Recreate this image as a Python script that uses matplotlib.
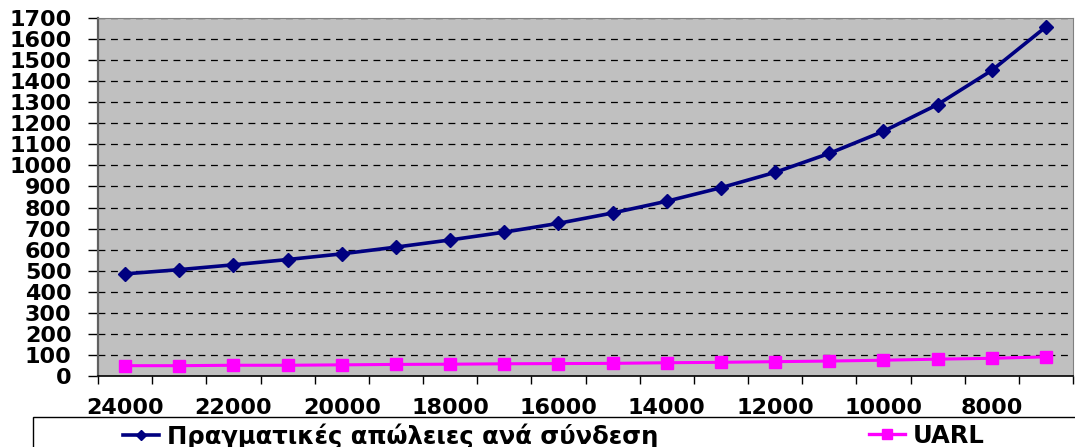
import matplotlib
matplotlib.use("Agg")
import matplotlib.pyplot as plt
from matplotlib.lines import Line2D
from matplotlib.patches import Rectangle

# connections (category axis, read right to left)
connections = [24000, 23000, 22000, 21000, 20000, 19000, 18000, 17000, 16000,
               15000, 14000, 13000, 12000, 11000, 10000, 9000, 8000, 7000]
# real losses per connection
real_losses = [485, 505, 528, 553, 580, 612, 646, 683, 725,
               774, 830, 894, 967, 1057, 1162, 1289, 1451, 1658]
# unavoidable annual real losses
uarl = [49, 49, 51, 51, 53, 55, 56, 58, 59,
        60, 63, 65, 68, 71, 75, 80, 84, 91]

label_real = "Πραγματικές απώλειες ανά σύνδεση"
label_uarl = "UARL"

W, H = 1075, 447
fig = plt.figure(figsize=(W / 100, H / 100), dpi=100)
fig.patch.set_facecolor("white")
ax = fig.add_axes([98 / W, 1 - 376 / H, 975 / W, (376 - 18) / H])
ax.set_facecolor("#C0C0C0")

x = list(range(len(connections)))
ax.plot(x, real_losses, color="#000080", lw=2.6, marker="D", ms=7, zorder=3)
ax.plot(x, uarl, color="#FF00FF", lw=2.2, marker="s", ms=8, zorder=3)

ax.set_xlim(-0.5, len(connections) - 0.5)
ax.set_ylim(0, 1700)

fnt = dict(family="DejaVu Sans", weight="bold", size=16)

ax.set_yticks(range(0, 1701, 100))
ax.set_yticklabels([str(v) for v in range(0, 1701, 100)], **fnt)
ax.tick_params(axis="y", length=7, width=1, pad=12, color="black")

ax.set_xticks(x[::2])
ax.set_xticklabels([str(c) for c in connections[::2]], **fnt)
ax.set_xticks([i - 0.5 for i in range(len(connections) + 1)], minor=True)
ax.tick_params(axis="x", which="major", length=0, pad=16)
ax.tick_params(axis="x", which="minor", length=6, width=1, color="black")

for v in range(100, 1701, 100):
    ax.axhline(v, color="black", lw=0.9, ls=(0, (5.5, 4.5)), zorder=1)

ax.spines["left"].set_color("#606060")
ax.spines["left"].set_linewidth(1.6)
ax.spines["bottom"].set_color("black")
ax.spines["bottom"].set_linewidth(1.2)
ax.spines["top"].set_color("#808080")
ax.spines["right"].set_color("#808080")

# legend box running off the bottom/right edge
fig.patches.append(Rectangle((33 / W, -0.2), 1.2, 0.2 + 1 - 417 / H,
                             transform=fig.transFigure, fill=False,
                             edgecolor="black", lw=1))

h1 = Line2D([], [], color="#000080", lw=2.6, marker="D", ms=5)
h2 = Line2D([], [], color="#FF00FF", lw=2.4, marker="s", ms=7)
lfnt = dict(family="DejaVu Sans", weight="bold", size=17.5)
leg1 = fig.legend(handles=[h1], labels=[label_real], loc="center left",
                  bbox_to_anchor=(123 / W, 1 - 436 / H), frameon=False,
                  borderpad=0, borderaxespad=0, handlelength=1.5,
                  handletextpad=0.3, prop=lfnt)
leg2 = fig.legend(handles=[h2], labels=[label_uarl], loc="center left",
                  bbox_to_anchor=(869 / W, 1 - 436 / H), frameon=False,
                  borderpad=0, borderaxespad=0, handlelength=1.5,
                  handletextpad=0.3, prop=lfnt)

fig.savefig("out.png", dpi=100)
